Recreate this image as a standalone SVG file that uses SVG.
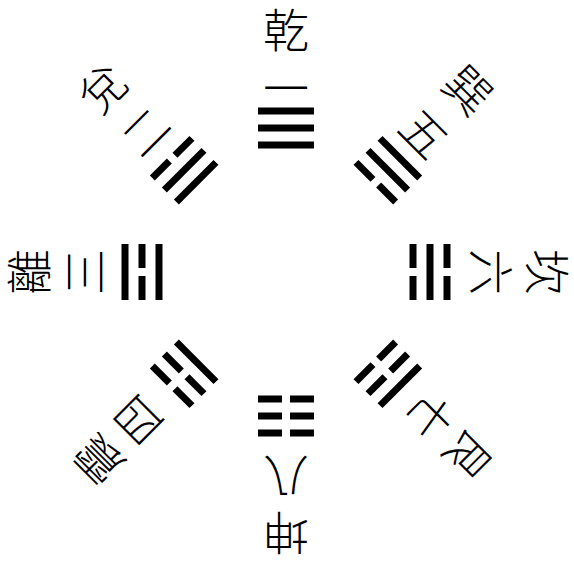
<svg xmlns="http://www.w3.org/2000/svg" xmlns:xlink="http://www.w3.org/1999/xlink" width="574" height="562" viewBox="0 0 574 562">
<style>
.lbl{font-family:"Noto Sans CJK TC","Noto Sans CJK JP",sans-serif;font-size:46px;font-weight:300;fill:#000;text-anchor:middle;dominant-baseline:central}
.bar{fill:#000}
</style>
<defs>
<rect id="yang" class="bar" x="-28" y="-3.5" width="56" height="7"/>
<g id="yin"><rect class="bar" x="-28" y="-3.5" width="24" height="7"/><rect class="bar" x="4" y="-3.5" width="24" height="7"/></g>
</defs>
<rect width="574" height="562" fill="#fff"/>
<g id="qian" transform="rotate(0 286 272)">
<use xlink:href="#yang" x="286" y="111"/><use xlink:href="#yang" x="286" y="128"/><use xlink:href="#yang" x="286" y="145"/>
<text class="lbl" x="286" y="27">乾</text><text class="lbl" x="286" y="85">一</text>
</g>
<g id="xun" transform="rotate(45 286 272)">
<use xlink:href="#yang" x="286" y="111"/><use xlink:href="#yang" x="286" y="128"/><use xlink:href="#yin" x="286" y="145"/>
<text class="lbl" x="286" y="12">巽</text><text class="lbl" x="286" y="74">五</text>
</g>
<g id="kan" transform="rotate(90 286 272)">
<use xlink:href="#yin" x="286" y="111"/><use xlink:href="#yang" x="286" y="128"/><use xlink:href="#yin" x="286" y="145"/>
<text class="lbl" x="286" y="8">坎</text><text class="lbl" x="286" y="64">六</text>
</g>
<g id="gen" transform="rotate(135 286 272)">
<use xlink:href="#yang" x="286" y="111"/><use xlink:href="#yin" x="286" y="128"/><use xlink:href="#yin" x="286" y="145"/>
<text class="lbl" x="286" y="11">艮</text><text class="lbl" x="286" y="66">七</text>
</g>
<g id="kun" transform="rotate(180 286 272)">
<use xlink:href="#yin" x="286" y="111"/><use xlink:href="#yin" x="286" y="128"/><use xlink:href="#yin" x="286" y="145"/>
<text class="lbl" x="286" y="8">坤</text><text class="lbl" x="286" y="64">八</text>
</g>
<g id="zhen" transform="rotate(225 286 272)">
<use xlink:href="#yin" x="286" y="111"/><use xlink:href="#yin" x="286" y="128"/><use xlink:href="#yang" x="286" y="145"/>
<text class="lbl" x="286" y="4">震</text><text class="lbl" x="286" y="60">四</text>
</g>
<g id="li" transform="rotate(270 286 272)">
<use xlink:href="#yang" x="286" y="111"/><use xlink:href="#yin" x="286" y="128"/><use xlink:href="#yang" x="286" y="145"/>
<text class="lbl" x="286" y="12">離</text><text class="lbl" x="286" y="68">三</text>
</g>
<g id="dui" transform="rotate(315 286 272)">
<use xlink:href="#yin" x="286" y="111"/><use xlink:href="#yang" x="286" y="128"/><use xlink:href="#yang" x="286" y="145"/>
<text class="lbl" x="286" y="10">兌</text><text class="lbl" x="286" y="71">二</text>
</g>
<g id="connectors"/>
</svg>
